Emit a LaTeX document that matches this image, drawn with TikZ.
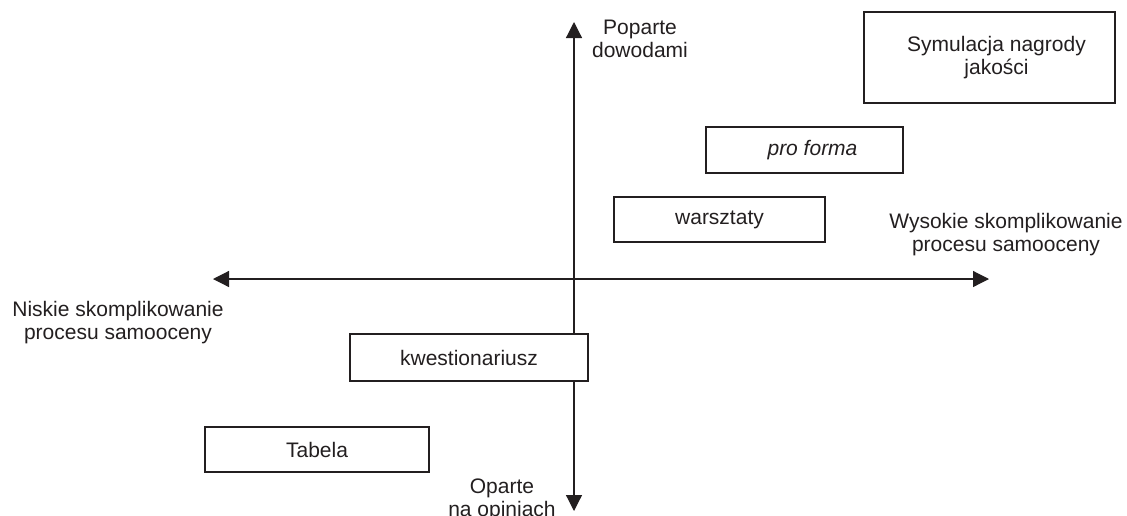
\documentclass[tikz,border=0pt]{standalone}
\usepackage{fontspec}
\setmainfont{Liberation Sans}
\usetikzlibrary{arrows.meta}
\definecolor{ink}{HTML}{231F20}
\begin{document}
\begin{tikzpicture}[x=1pt,y=-1pt,
  every node/.style={font=\fontsize{21}{23.5}\selectfont, text=ink},
  box/.style={draw=ink, line width=1.4pt, fill=white, inner sep=0pt, align=center},
  lbl/.style={align=center, inner sep=0pt, anchor=base},
  axis/.style={draw=ink, line width=1.2pt,
    {Triangle[length=16pt,width=16pt]}-{Triangle[length=16pt,width=16pt]}}]
\useasboundingbox (0,0) rectangle (1127,515);
\fill[white] (0,0) rectangle (1127,515);
% axes
\coordinate (L) at (213,279);
\coordinate (R) at (989,279);
\coordinate (T) at (574,22);
\coordinate (B) at (574,511);
\draw[axis] (L) -- (R);
\draw[axis] (B) -- (T);
% axis labels (anchor base = baseline of the last line)
\node[lbl] (top) at (640,57.5) {Poparte\\dowodami};
\node[lbl] (bot) at (502,516.5) {Oparte\\na opiniach};
\node[lbl] (left) at (118,339.5) {Niskie skomplikowanie\\procesu samooceny};
\node[lbl] (right) at (1006,251.5) {Wysokie skomplikowanie\\procesu samooceny};
% boxes
\node[box, minimum width=251pt, minimum height=91pt,
  label={[xshift=7pt, align=center, inner sep=0pt]center:Symulacja nagrody\\jakości}] (sym) at (989.5,57.5) {};
\node[box, minimum width=197pt, minimum height=46pt,
  label={[xshift=8pt, inner sep=0pt]center:\itshape pro forma}] (pf) at (804.5,150) {};
\node[box, minimum width=211pt, minimum height=45pt] (war) at (719.5,219.5) {warsztaty};
\node[box, minimum width=238pt, minimum height=47pt] (kw) at (469,357.5) {kwestionariusz};
\node[box, minimum width=224pt, minimum height=45pt] (tab) at (317,449.5) {Tabela};
\end{tikzpicture}
\end{document}
